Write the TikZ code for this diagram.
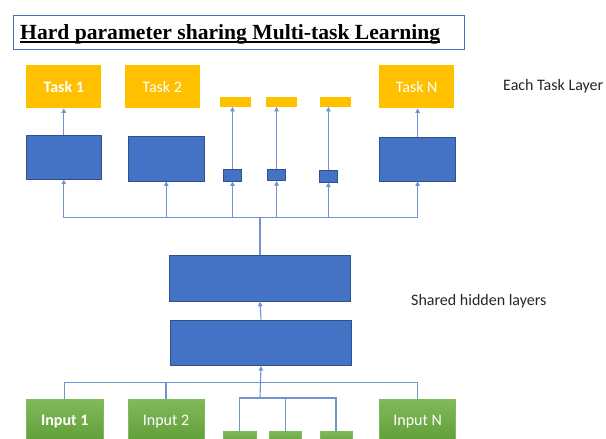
\documentclass[tikz,border=0pt]{standalone}
\usepackage{fontspec}
\setmainfont{Carlito}
\newfontfamily\titlefont{Liberation Serif}
\usetikzlibrary{arrows.meta}
\definecolor{gold}{HTML}{FFC000}
\definecolor{blu}{HTML}{4472C4}
\definecolor{bluedge}{HTML}{2F528F}
\definecolor{wire}{HTML}{7292D3}
\definecolor{grtop}{HTML}{80BA5C}
\definecolor{grbot}{HTML}{5E9D36}
\definecolor{muted}{HTML}{262626}
\tikzset{
  task/.style={fill=gold, text=white, minimum width=75pt, minimum height=43pt, inner sep=0pt},
  stask/.style={fill=gold, minimum width=31pt, minimum height=9.7pt, inner sep=0pt},
  layer/.style={fill=blu, draw=bluedge, line width=0.8pt, inner sep=0pt},
  inp/.style={top color=grtop, bottom color=grbot, draw=grtop, text=white, inner sep=0pt},
  note/.style={text=muted, anchor=west, inner sep=0pt},
  wire/.style={draw=wire, line width=1.1pt},
  arr/.style={wire, -{Triangle[length=4.5pt,width=4.5pt]}}
}

\begin{document}
\begin{tikzpicture}[x=1pt,y=-1pt,font=\fontsize{16}{18}\selectfont]
\useasboundingbox (0,0) rectangle (606,439);
% title
\node[draw=blu, line width=0.9pt, minimum width=451pt, minimum height=34pt, anchor=north west] (tbox) at (12.8,15) {};
\node[anchor=base west, inner sep=0pt, font=\titlefont\bfseries\fontsize{21.6}{24}\selectfont] (ttl) at (20,39.6) {Hard parameter sharing Multi-task Learning};
\draw[line width=1.2pt] ([yshift=-2.4pt]ttl.base west) -- ([yshift=-2.4pt]ttl.base east);

% task layer
\node[task] (t1) at (63.8,86.7) {\bfseries Task 1};
\node[task] (t2) at (162.2,86.7) {Task 2};
\node[stask] (y1) at (235,101.8) {};
\node[stask] (y2) at (281,101.8) {};
\node[stask] (y3) at (335.3,101.8) {};
\node[task] (tn) at (416.7,86.7) {Task N};
\node[note] (lt) at (503,86.7) {Each Task Layer};

% task specific layers
\node[layer, minimum width=75.8pt, minimum height=44pt] (b1) at (63.8,157.3) {};
\node[layer, minimum width=75.8pt, minimum height=45pt] (b2) at (166.2,158.5) {};
\node[layer, minimum width=18.5pt, minimum height=11.7pt] (s1) at (232.5,175.2) {};
\node[layer, minimum width=18.5pt, minimum height=11.7pt] (s2) at (276.6,174.8) {};
\node[layer, minimum width=18.5pt, minimum height=11.7pt] (s3) at (328.4,176.2) {};
\node[layer, minimum width=76pt, minimum height=44pt] (bn) at (417.6,159) {};

% shared layers
\node[layer, minimum width=181.3pt, minimum height=46pt] (sh1) at (260,278.3) {};
\node[layer, minimum width=181.3pt, minimum height=45.7pt] (sh2) at (261,342.8) {};
\node[note] (ls) at (411,301.7) {Shared hidden layers};

% inputs
\node[inp, minimum width=77pt, minimum height=45pt] (i1) at (64.7,421.5) {\bfseries Input 1};
\node[inp, minimum width=76pt, minimum height=45pt] (i2) at (166,421.5) {Input 2};
\node[inp, minimum width=33pt, minimum height=14pt] (g1) at (239.8,438) {};
\node[inp, minimum width=32pt, minimum height=14pt] (g2) at (285.5,438) {};
\node[inp, minimum width=32pt, minimum height=14pt] (g3) at (336,438) {};
\node[inp, minimum width=76pt, minimum height=45pt] (in) at (417.6,421.5) {Input N};

% connectors
\coordinate (tb) at (260,217.7);
\coordinate (bb) at (260,382.7);
\coordinate (gb) at (260,398);
\foreach \n in {b1,b2,s1,s2,s3,bn}
  \draw[arr] (sh1.north) -- (tb) -| (\n.south);
\draw[arr] (b1.north) -- (t1.south);
\draw[arr] (bn.north) -- (bn.north |- tn.south);
\draw[arr] (s1.north) -- (s1.north |- y1.south);
\draw[arr] (s2.north) -- (s2.north |- y2.south);
\draw[arr] (s3.north) -- (s3.north |- y3.south);
\draw[arr] (sh2.north) -- (sh1.south);
\foreach \n in {i1,i2,in}
  \draw[wire] (\n.north) |- (bb);
\foreach \n in {g1,g2,g3}
  \draw[wire] (\n.north) |- (gb);
\draw[arr] (gb) -- (sh2.south);
\end{tikzpicture}
\end{document}
